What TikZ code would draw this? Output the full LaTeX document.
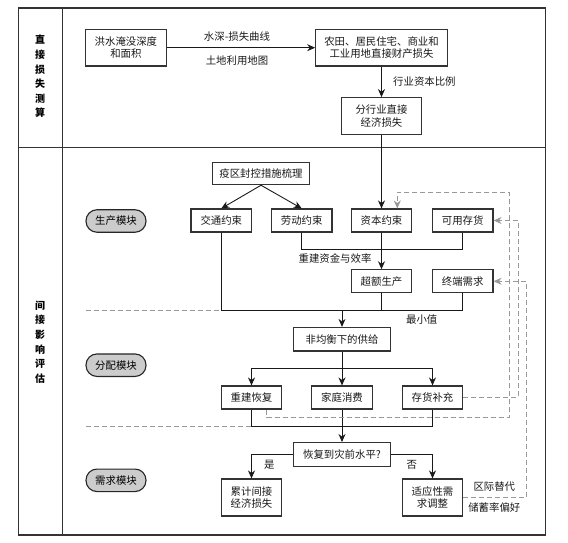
\documentclass[tikz,border=0pt]{standalone}
\usepackage{fontspec}
\setmainfont{Noto Sans CJK SC}
\usetikzlibrary{arrows.meta}
\begin{document}
\begin{tikzpicture}[x=1pt,y=-1pt,
  box/.style={draw=black!80, line width=1.1pt, fill=white, inner sep=0pt, align=center,
    font=\fontsize{10.4}{12.5}\selectfont, text=black!90},
  sa/.style={box, minimum width=60.6pt, minimum height=23pt},
  sb/.style={box, minimum width=60.6pt, minimum height=37pt},
  sc/.style={box, minimum width=97.4pt, minimum height=23.5pt},
  mod/.style={draw=black!85, line width=1.1pt, fill=black!20, rounded corners=11pt,
    minimum width=60pt, minimum height=22.5pt, inner sep=0pt,
    font=\fontsize{10.4}{12.5}\selectfont},
  conn/.style={line width=0.9pt, black!90},
  arr/.style={conn, -{Stealth[length=8pt,width=7pt]}},
  gdash/.style={line width=0.9pt, black!40, dash pattern=on 5pt off 3pt},
  garr/.style={gdash, -{Stealth[length=8pt,width=7pt]}},
  lab/.style={font=\fontsize{10.4}{12.5}\selectfont, inner sep=0pt, text=black!90},
  ttl/.style={font=\fontsize{10}{14.6}\selectfont\bfseries, align=center, inner sep=0pt}
]
\useasboundingbox (0,0) rectangle (568,543);
% frame
\draw[line width=1.1pt, black!80] (18.3,8) rectangle (545.5,535);
\draw[line width=1.1pt, black!80] (62.7,8) -- (62.7,535);
\draw[line width=1.1pt, black!80] (18.3,147.7) -- (545.5,147.7);
\node[ttl] (t1) at (40,76.5) {直\\接\\损\\失\\测\\算};
\node[ttl] (t2) at (40,342) {间\\接\\影\\响\\评\\估};

% direct part
\node[box, minimum width=80.3pt, minimum height=36.7pt] (flood) at (125.9,47.7) {洪水淹没深度\\和面积};
\node[box, minimum width=131.6pt, minimum height=36.7pt] (direct) at (381.5,47.7) {农田、居民住宅、商业和\\工业用地直接财产损失};
\node[box, minimum width=80.7pt, minimum height=37pt] (sector) at (381.5,116.2) {分行业直接\\经济损失};
\draw[arr] (flood) -- (direct);
\node[lab] (l1) at (237,37) {水深-损失曲线};
\node[lab] (l2) at (237,60.7) {土地利用地图};
\draw[arr] (direct) -- (sector);
\node[lab, anchor=west] (l3) at (393,82) {行业资本比例};

% production module
\node[mod] (mp) at (116,221) {生产模块};
\node[mod] (md) at (116,365.2) {分配模块};
\node[mod] (mq) at (116,480.3) {需求模块};

\node[box, minimum width=96.6pt, minimum height=22.4pt] (epi) at (261,173.5) {疫区封控措施梳理};
\node[sa] (traffic) at (221.3,220.5) {交通约束};
\node[sa] (labor) at (301.7,220.5) {劳动约束};
\node[sa] (capital) at (381.5,220.5) {资本约束};
\node[sa] (inv) at (462.7,220.5) {可用存货};
\node[sa] (over) at (381.5,281.3) {超额生产};
\node[sa] (final) at (462.7,281.3) {终端需求};

\draw[arr] (sector) -- (capital);
\draw[arr] (epi.south) -- (traffic.north);
\draw[arr] (epi.south) -- (labor.north);
\draw[conn] (labor.south) -- ++(0,17) -| (inv.south);
\draw[arr] (capital) -- (over);
\node[lab] (l4) at (335,259) {重建资金与效率};

\coordinate (m1) at (342,310);
\draw[conn] (traffic.south) -- (traffic.south |- m1) -- (final.south |- m1) -- (final.south);
\draw[conn] (over.south) -- (over.south |- m1);
\node[lab] (l5) at (421.7,319.5) {最小值};
\draw[gdash] (86,310) -- (traffic.south |- m1);

% distribution module
\node[sc] (supply) at (342,339.2) {非均衡下的供给};
\node[sa] (rebuild) at (251.5,397.5) {重建恢复};
\node[sa] (house) at (342,397.5) {家庭消费};
\node[sa] (restock) at (432.5,397.5) {存货补充};
\draw[arr] (m1) -- (supply.north);

\coordinate (m2) at (342,368.3);
\draw[conn] (supply.south) -- (m2);
\draw[conn] (rebuild.north |- m2) -- (restock.north |- m2);
\draw[arr] (rebuild.north |- m2) -- (rebuild.north);
\draw[arr] (m2) -- (house.north);
\draw[arr] (restock.north |- m2) -- (restock.north);

\coordinate (m3) at (342,426.7);
\draw[conn] (rebuild.south) -- (rebuild.south |- m3) -- (restock.south |- m3) -- (restock.south);
\draw[gdash] (86,426.7) -- (rebuild.south |- m3);

% demand module
\node[sc] (recover) at (342,454.3) {恢复到灾前水平?};
\node[sb] (accum) at (251.5,497.5) {累计间接\\经济损失};
\node[sb] (adapt) at (432.5,497.5) {适应性需\\求调整};
\draw[arr] (house.south) -- (recover.north);
\draw[arr] (recover.west) -| (accum.north);
\draw[arr] (recover.east) -| (adapt.north);
\node[lab] (l6) at (269.3,465) {是};
\node[lab] (l7) at (411.7,465) {否};
\node[lab] (l8) at (494.3,486.7) {区际替代};
\node[lab] (l9) at (494.3,507.3) {储蓄率偏好};

% feedback dashed lines
\draw[garr] ([xshift=15.2pt]rebuild.south) -- (266.7,417.7) -- (509.3,417.7) -- (509.3,192.3) -- (397.3,192.3) -- ([xshift=15.8pt]capital.north);
\draw[garr] (restock.east) -- (518,397.5) -- (518,220.5) -- (inv.east);
\draw[garr] (adapt.east) -- (526.7,497.5) -- (526.7,281.3) -- (final.east);
\end{tikzpicture}
\end{document}
